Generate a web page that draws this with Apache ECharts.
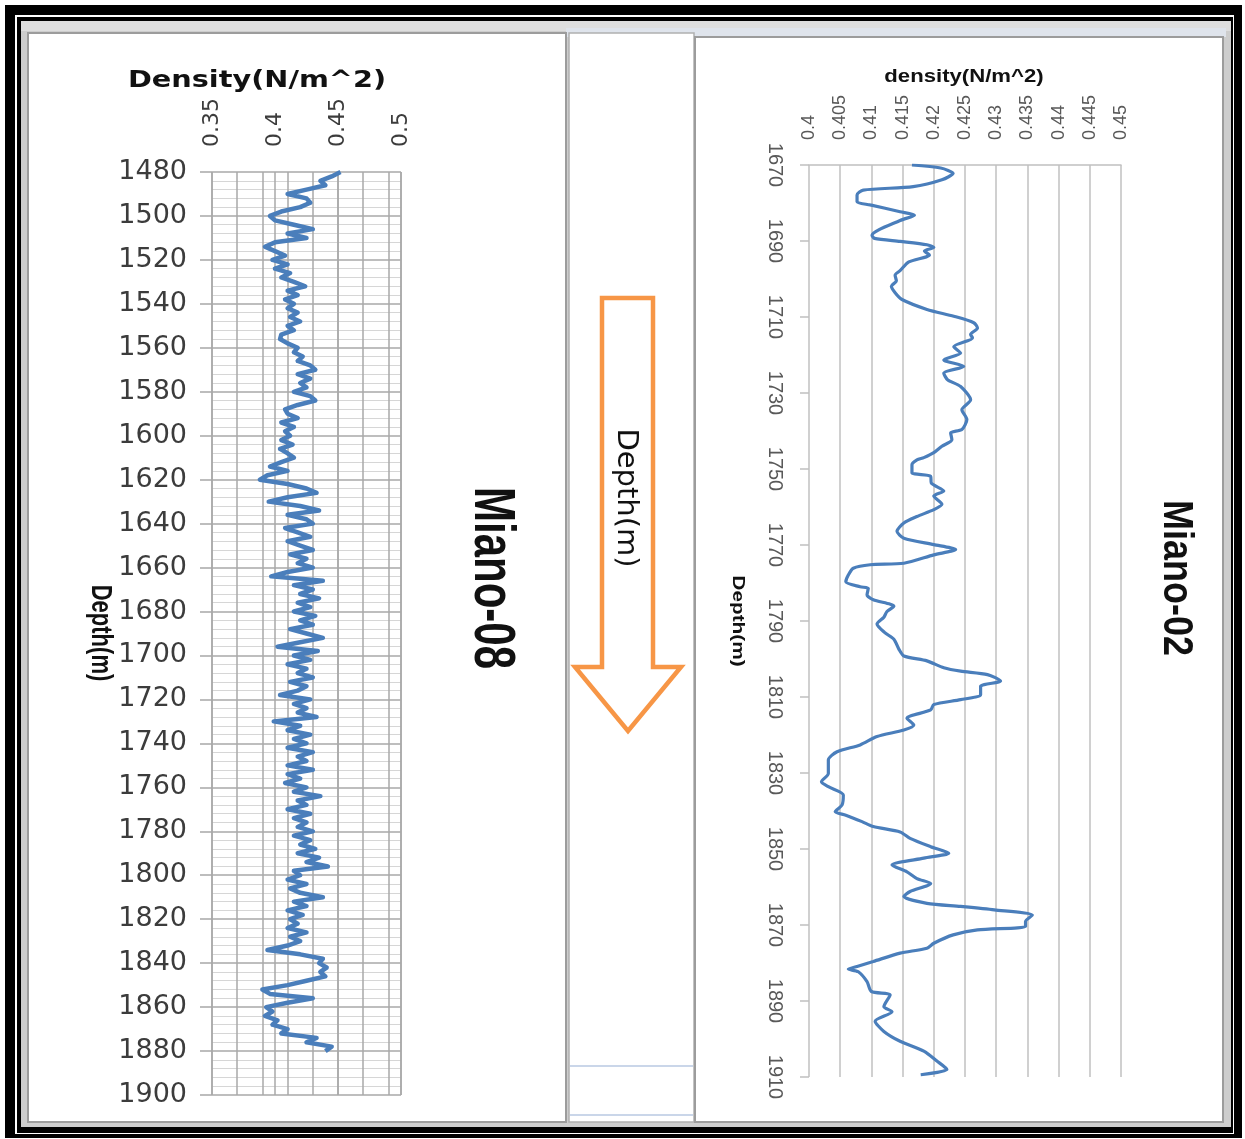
<!DOCTYPE html>
<html><head><meta charset="utf-8">
<script src="https://cdn.jsdelivr.net/npm/echarts/dist/echarts.min.js"></script>
<style>html,body{margin:0;padding:0;background:#fff}#c{width:1245px;height:1139px}</style>
</head><body><div id="c"></div>
<script>
// Miano-08 : depth (m) and density
const depth08 = [
1480,1482,1484,1486,1488,1490,1492,1494,1496,1498,
1500,1502,1504,1506,1508,1510,1512,1514,1516,1518,
1520,1522,1524,1526,1528,1530,1532,1534,1536,1538,
1540,1542,1544,1546,1548,1550,1552,1554,1556,1558,
1560,1562,1564,1566,1568,1570,1572,1574,1576,1578,
1580,1582,1584,1586,1588,1590,1592,1594,1596,1598,
1600,1602,1604,1606,1608,1610,1612,1614,1616,1618,
1620,1622,1624,1626,1628,1630,1632,1634,1636,1638,
1640,1642,1644,1646,1648,1650,1652,1654,1656,1658,
1660,1662,1664,1666,1668,1670,1672,1674,1676,1678,
1680,1682,1684,1686,1688,1690,1692,1694,1696,1698,
1700,1702,1704,1706,1708,1710,1712,1714,1716,1718,
1720,1722,1724,1726,1728,1730,1732,1734,1736,1738,
1740,1742,1744,1746,1748,1750,1752,1754,1756,1758,
1760,1762,1764,1766,1768,1770,1772,1774,1776,1778,
1780,1782,1784,1786,1788,1790,1792,1794,1796,1798,
1800,1802,1804,1806,1808,1810,1812,1814,1816,1818,
1820,1822,1824,1826,1828,1830,1832,1834,1836,1838,
1840,1842,1844,1846,1848,1850,1852,1854,1856,1858,
1860,1862,1864,1866,1868,1870,1872,1874,1876,1878,
1880];
const dens08 = [
0.452,0.445,0.436,0.440,0.425,0.410,0.425,0.428,0.420,0.405,
0.396,0.400,0.415,0.430,0.410,0.425,0.400,0.392,0.400,0.408,
0.398,0.410,0.400,0.412,0.405,0.415,0.424,0.410,0.418,0.408,
0.415,0.410,0.418,0.412,0.420,0.410,0.415,0.405,0.404,0.410,
0.418,0.415,0.422,0.418,0.428,0.432,0.418,0.428,0.420,0.425,
0.415,0.428,0.432,0.418,0.408,0.410,0.418,0.405,0.415,0.408,
0.412,0.405,0.414,0.404,0.410,0.415,0.405,0.396,0.410,0.394,
0.388,0.410,0.425,0.433,0.410,0.395,0.420,0.435,0.410,0.425,
0.430,0.408,0.418,0.428,0.410,0.420,0.430,0.412,0.425,0.418,
0.430,0.410,0.397,0.438,0.415,0.430,0.420,0.435,0.418,0.428,
0.415,0.432,0.420,0.430,0.412,0.425,0.438,0.420,0.402,0.434,
0.415,0.428,0.410,0.425,0.418,0.430,0.412,0.425,0.418,0.404,
0.428,0.415,0.425,0.418,0.433,0.399,0.420,0.410,0.428,0.415,
0.425,0.410,0.430,0.418,0.425,0.410,0.430,0.410,0.420,0.408,
0.425,0.415,0.436,0.418,0.425,0.410,0.428,0.415,0.425,0.418,
0.430,0.415,0.428,0.420,0.432,0.418,0.435,0.425,0.442,0.415,
0.420,0.410,0.425,0.412,0.420,0.438,0.415,0.425,0.410,0.422,
0.412,0.418,0.410,0.425,0.412,0.420,0.410,0.394,0.420,0.438,
0.435,0.441,0.436,0.440,0.425,0.410,0.390,0.396,0.430,0.410,
0.393,0.398,0.392,0.402,0.398,0.410,0.405,0.433,0.425,0.445,
0.440];

// Miano-02 : depth (m) and density
const depth02 = [
1670.0,1670.8,1672.2,1673.9,1675.7,1676.6,1677.9,1679.7,1680.5,1682.3,
1683.2,1684.6,1688.5,1689.3,1690.1,1691.0,1691.7,1692.6,1693.7,1695.5,
1697.8,1699.0,1700.5,1701.9,1703.6,1705.4,1708.0,1709.8,1711.5,1712.9,
1714.6,1715.5,1717.8,1719.5,1721.3,1723.0,1724.8,1726.5,1728.3,1731.8,
1734.4,1737.0,1739.6,1740.5,1742.3,1744.0,1745.7,1747.0,1747.6,1748.9,
1751.0,1751.9,1753.7,1755.8,1757.1,1759.3,1760.7,1762.5,1764.2,1766.4,
1768.2,1769.9,1771.2,1772.6,1774.8,1775.2,1776.1,1777.9,1779.7,1781.0,
1781.4,1783.1,1784.4,1786.1,1787.5,1789.0,1790.8,1793.0,1794.8,1797.4,
1799.2,1800.5,1802.3,1803.2,1804.1,1805.8,1807.2,1809.4,1810.7,1812.0,
1813.4,1815.6,1817.4,1818.7,1820.4,1822.6,1824.4,1826.6,1830.1,1832.3,
1833.6,1835.8,1838.4,1840.2,1841.1,1842.8,1844.1,1845.5,1847.2,1849.4,
1851.1,1852.4,1854.2,1856.0,1857.8,1859.1,1861.2,1862.5,1864.3,1865.1,
1866.0,1867.4,1869.1,1870.4,1871.3,1872.6,1874.8,1876.1,1877.4,1879.6,
1880.9,1881.6,1882.3,1884.9,1887.5,1888.4,1891.5,1892.8,1895.3,1898.0,
1900.6,1903.2,1905.8,1908.0,1909.4];
const dens02 = [
0.4165,0.4211,0.4231,0.4213,0.4167,0.4087,0.4077,0.4077,0.4098,0.4146,
0.4169,0.4146,0.4101,0.4105,0.4146,0.4189,0.4200,0.4185,0.4193,0.4160,
0.4146,0.4138,0.4140,0.4132,0.4138,0.4149,0.4189,0.4232,0.4264,0.4270,
0.4259,0.4262,0.4232,0.4243,0.4216,0.4248,0.4216,0.4222,0.4243,0.4259,
0.4245,0.4253,0.4245,0.4227,0.4229,0.4213,0.4200,0.4184,0.4173,0.4165,
0.4165,0.4195,0.4196,0.4216,0.4200,0.4213,0.4200,0.4173,0.4152,0.4141,
0.4152,0.4200,0.4235,0.4200,0.4152,0.4098,0.4071,0.4063,0.4059,0.4082,
0.4095,0.4093,0.4103,0.4136,0.4125,0.4120,0.4109,0.4121,0.4136,0.4144,
0.4152,0.4189,0.4216,0.4243,0.4286,0.4307,0.4275,0.4275,0.4243,0.4200,
0.4195,0.4157,0.4168,0.4152,0.4109,0.4082,0.4045,0.4031,0.4031,0.4020,
0.4031,0.4055,0.4053,0.4042,0.4059,0.4085,0.4103,0.4146,0.4162,0.4195,
0.4224,0.4184,0.4133,0.4157,0.4173,0.4195,0.4162,0.4152,0.4189,0.4243,
0.4297,0.4358,0.4347,0.4347,0.4270,0.4231,0.4200,0.4189,0.4146,0.4103,
0.4077,0.4063,0.4079,0.4093,0.4100,0.4130,0.4120,0.4133,0.4106,0.4120,
0.4146,0.4184,0.4205,0.4221,0.4179];

const title08 = 'Density(N/m^2)';
const title02 = 'density(N/m^2)';
const well08 = 'Miano-08';
const well02 = 'Miano-02';
const depthName = 'Depth(m)';

const data08 = depth08.map((d, i) => [dens08[i], d]);
const data02 = depth02.map((d, i) => [dens02[i], d]);
const plain = v => String(v);

const chart = echarts.init(document.getElementById('c'), null, {renderer: 'canvas'});
const R = -Math.PI / 2;
const txt = (x, y, text, font, extra) => Object.assign({
  type: 'text', x: x, y: y, z: 20,
  style: {text: text, font: font, fill: '#111', align: 'center', verticalAlign: 'middle',
          textAlign: 'center', textVerticalAlign: 'middle'}
}, extra || {});

chart.setOption({
  animation: false,
  backgroundColor: '#ffffff',
  grid: [
    {left: 212, top: 172, width: 189, height: 923, outerBoundsMode: 'none', containLabel: false},
    {left: 809, top: 165, width: 312, height: 912, outerBoundsMode: 'none', containLabel: false}
  ],
  xAxis: [
    {gridIndex: 0, type: 'value', position: 'top', min: 0.35, max: 0.5, interval: 0.05,
     axisLine: {show: false}, axisTick: {show: false},
     axisLabel: {rotate: -90, margin: 25, fontSize: 22, fontFamily: 'DejaVu Sans', color: '#3c3c3c',
                 showMinLabel: true, showMaxLabel: true},
     splitLine: {show: true, lineStyle: {color: '#a8a8a8', width: 1.5}}},
    {gridIndex: 0, type: 'value', position: 'top', min: 0.35, max: 0.5, interval: 0.02,
     axisLine: {show: false}, axisTick: {show: false}, axisLabel: {show: false},
     splitLine: {show: true, lineStyle: {color: '#a8a8a8', width: 1.5}}},
    {gridIndex: 1, type: 'value', position: 'top', min: 0.4, max: 0.45, interval: 0.005,
     axisLine: {show: true, lineStyle: {color: '#c0c0c0', width: 1.5}}, axisTick: {show: false},
     axisLabel: {rotate: -90, margin: 25, fontSize: 18, fontFamily: 'Liberation Sans', color: '#595959',
                 showMinLabel: true, showMaxLabel: true},
     splitLine: {show: true, lineStyle: {color: '#c0c0c0', width: 1.5}}}
  ],
  yAxis: [
    {gridIndex: 0, type: 'value', inverse: true, min: 1480, max: 1900, interval: 20,
     axisLine: {show: false},
     axisTick: {show: true, length: 12, lineStyle: {color: '#a8a8a8', width: 1.5}},
     axisLabel: {margin: 25, fontSize: 27, fontFamily: 'DejaVu Sans', color: '#3c3c3c', formatter: plain,
                 showMinLabel: true, showMaxLabel: true},
     splitLine: {show: true, lineStyle: {color: '#a8a8a8', width: 1.5}},
     minorTick: {show: false, splitNumber: 5},
     minorSplitLine: {show: true, lineStyle: {color: '#d6d6d6', width: 1}}},
    {gridIndex: 1, type: 'value', inverse: true, min: 1670, max: 1910, interval: 20,
     axisLine: {show: false},
     axisTick: {show: true, length: 9, lineStyle: {color: '#c0c0c0', width: 1.5}},
     axisLabel: {rotate: -90, margin: 24, fontSize: 20, fontFamily: 'Liberation Sans', color: '#595959',
                 formatter: plain, showMinLabel: true, showMaxLabel: true},
     splitLine: {show: false}}
  ],
  series: [
    {type: 'line', xAxisIndex: 0, yAxisIndex: 0, data: data08, showSymbol: false, symbol: 'none',
     lineStyle: {color: '#4a7ebb', width: 4.5, join: 'round'}, z: 5},
    {type: 'line', xAxisIndex: 2, yAxisIndex: 1, data: data02, showSymbol: false, symbol: 'none',
     smooth: 0.25, lineStyle: {color: '#4a7ebb', width: 3.2}, z: 5}
  ],
  graphic: [
    {type: 'rect', z: -10, shape: {x: 5, y: 5, width: 1237, height: 1133}, style: {fill: '#000'}},
    {type: 'rect', z: -10, shape: {x: 15, y: 15, width: 1219, height: 1119}, style: {fill: '#fff'}},
    {type: 'rect', z: -10, shape: {x: 17, y: 17, width: 1216, height: 1116}, style: {fill: '#000'}},
    {type: 'rect', z: -10, shape: {x: 21, y: 21, width: 1210, height: 1106}, style: {fill: '#cdcdcd'}},
    {type: 'rect', z: -10, shape: {x: 21, y: 21, width: 1210, height: 10}, style: {fill: '#dedede'}},
    {type: 'rect', z: -10, shape: {x: 566, y: 28, width: 660, height: 9}, style: {fill: '#dfe4ec'}},
    {type: 'rect', z: -10, shape: {x: 28, y: 33, width: 538, height: 1089},
     style: {fill: '#fff', stroke: '#9c9c9c', lineWidth: 2}},
    {type: 'rect', z: -10, shape: {x: 569, y: 33, width: 125, height: 1089},
     style: {fill: '#fff', stroke: '#b0b0b0', lineWidth: 1.5}},
    {type: 'line', z: -9, shape: {x1: 570, y1: 1066, x2: 693, y2: 1066}, style: {stroke: '#b9c9e2', lineWidth: 1.5}},
    {type: 'line', z: -9, shape: {x1: 570, y1: 1115, x2: 693, y2: 1115}, style: {stroke: '#b9c9e2', lineWidth: 1.5}},
    {type: 'rect', z: -10, shape: {x: 695, y: 37, width: 528, height: 1085},
     style: {fill: '#fff', stroke: '#9c9c9c', lineWidth: 2}},
    {type: 'polygon', z: 15,
     shape: {points: [[602, 298], [653, 298], [653, 667], [681, 667], [628, 731], [575, 667], [602, 667]]},
     style: {fill: '#fff', stroke: '#f79646', lineWidth: 4.5, lineJoin: 'miter'}},
    txt(626, 498, depthName, '29px "DejaVu Sans"', {rotation: R}),
    txt(257, 81, title08, 'bold 23px "DejaVu Sans"', {scaleX: 1.25}),
    txt(964, 77, title02, 'bold 18px "Liberation Sans"', {scaleX: 1.23}),
    txt(491, 578, well08, 'bold 42px "Liberation Sans"', {rotation: R, scaleY: 1.35}),
    txt(1176, 578, well02, 'bold 36px "Liberation Sans"', {rotation: R, scaleY: 1.2}),
    txt(100, 633, depthName, 'bold 22px "Liberation Sans"', {rotation: R, scaleY: 1.3}),
    txt(737, 621, depthName, 'bold 16px "Liberation Sans"', {rotation: R, scaleX: 1.3})
  ]
});
</script></body></html>
